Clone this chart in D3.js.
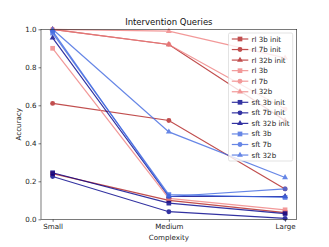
<!DOCTYPE html>
<html><head><meta charset="utf-8">
<script src="https://cdn.jsdelivr.net/npm/d3@7"></script>
<style>body{margin:0;background:#fff}svg{display:block;font-family:"DejaVu Sans",sans-serif}</style>
</head><body><svg id="c" width="329" height="247"></svg>
<script>
const categories = ["Small", "Medium", "Large"];
const yTicks = [0.0, 0.2, 0.4, 0.6, 0.8, 1.0];
const seriesNames = ["rl 3b init","rl 7b init","rl 32b init","rl 3b","rl 7b","rl 32b","sft 3b init","sft 7b init","sft 32b init","sft 3b","sft 7b","sft 32b"];
const rl3bInit   = [0.24, 0.10, 0.035];
const rl7bInit   = [0.61, 0.52, 0.16];
const rl32bInit  = [1.00, 0.92, 0.52];
const rl3b       = [0.90, 0.11, 0.05];
const rl7b       = [1.00, 0.92, 0.58];
const rl32b      = [1.00, 0.99, 0.85];
const sft3bInit  = [0.245, 0.085, 0.03];
const sft7bInit  = [0.225, 0.04, 0.005];
const sft32bInit = [0.955, 0.12, 0.12];
const sft3b      = [0.98, 0.13, 0.115];
const sft7b      = [0.99, 0.12, 0.16];
const sft32b     = [1.00, 0.46, 0.22];
const seriesValues = [rl3bInit, rl7bInit, rl32bInit, rl3b, rl7b, rl32b, sft3bInit, sft7bInit, sft32bInit, sft3b, sft7b, sft32b];
const colors = ["#b22222","#b22222","#b22222","#f08080","#f08080","#f08080","#00008b","#00008b","#00008b","#4169e1","#4169e1","#4169e1"];
const markers = ["square","circle","triangle","square","circle","triangle","square","circle","triangle","square","circle","triangle"];

const svg = d3.select("#c");
const L = 41, R = 296.7, T = 29.3, B = 219.3;
const x = d3.scalePoint().domain(categories).range([L + (R-L)*0.05/1.1, R - (R-L)*0.05/1.1]);
const y = d3.scaleLinear().domain([0, 1]).range([B, T]);

const symType = {square: d3.symbolSquare, circle: d3.symbolCircle, triangle: d3.symbolTriangle};
const symSize = {square: 22, circle: 19, triangle: 15};

const plot = svg.append("g");
seriesValues.forEach((vals, i) => {
  const g = plot.append("g").attr("opacity", 0.8);
  const line = d3.line().x((d, j) => x(categories[j])).y(d => y(d));
  g.append("path").datum(vals).attr("d", line).attr("fill", "none").attr("stroke", colors[i]).attr("stroke-width", 1.2);
  g.selectAll("path.m").data(vals).enter().append("path").attr("class", "m")
    .attr("transform", (d, j) => `translate(${x(categories[j])},${y(d)})`)
    .attr("d", d3.symbol().type(symType[markers[i]]).size(symSize[markers[i]]))
    .attr("fill", colors[i]);
});

const xAxis = svg.append("g").attr("transform", `translate(0,${B})`)
  .call(d3.axisBottom(x).tickSize(2.5).tickPadding(2));
const yAxis = svg.append("g").attr("transform", `translate(${L},0)`)
  .call(d3.axisLeft(y).tickValues(yTicks).tickFormat(d3.format(".1f")).tickSize(2.5).tickPadding(2));
[xAxis, yAxis].forEach(a => {
  a.select(".domain").remove();
  a.selectAll("line").attr("stroke", "#222").attr("stroke-width", 0.6);
  a.selectAll("text").attr("font-size", 7.1).attr("fill", "#222").attr("font-family", "DejaVu Sans");
});
svg.append("rect").attr("x", L).attr("y", T).attr("width", R - L).attr("height", B - T)
  .attr("fill", "none").attr("stroke", "#222").attr("stroke-width", 0.6);

svg.append("text").attr("x", (L + R) / 2).attr("y", 25).attr("text-anchor", "middle")
  .attr("font-size", 8.5).attr("fill", "#111").text("Intervention Queries");
svg.append("text").attr("x", (L + R) / 2).attr("y", 240).attr("text-anchor", "middle")
  .attr("font-size", 7.1).attr("fill", "#222").text("Complexity");
svg.append("text").attr("transform", `translate(20.5,${(T + B) / 2}) rotate(-90)`).attr("text-anchor", "middle")
  .attr("font-size", 7.1).attr("fill", "#222").text("Accuracy");

const lg = svg.append("g");
const lx = 228.5, ly = 33, lw = 64.2, lh = 128, step = 10.55;
lg.append("rect").attr("x", lx).attr("y", ly).attr("width", lw).attr("height", lh).attr("rx", 1.5)
  .attr("fill", "#fff").attr("fill-opacity", 0.8).attr("stroke", "#d0d0d0").attr("stroke-width", 0.6);
seriesNames.forEach((name, i) => {
  const cy = ly + 6 + i * step;
  const g = lg.append("g").attr("opacity", 0.8);
  g.append("line").attr("x1", lx + 3.3).attr("x2", lx + 19.8).attr("y1", cy).attr("y2", cy)
    .attr("stroke", colors[i]).attr("stroke-width", 1.2);
  g.append("path").attr("transform", `translate(${lx + 11.5},${cy})`)
    .attr("d", d3.symbol().type(symType[markers[i]]).size(symSize[markers[i]])).attr("fill", colors[i]);
  lg.append("text").attr("x", lx + 23).attr("y", cy + 2.5).attr("font-size", 7.1).attr("fill", "#222").text(name);
});
</script></body></html>
